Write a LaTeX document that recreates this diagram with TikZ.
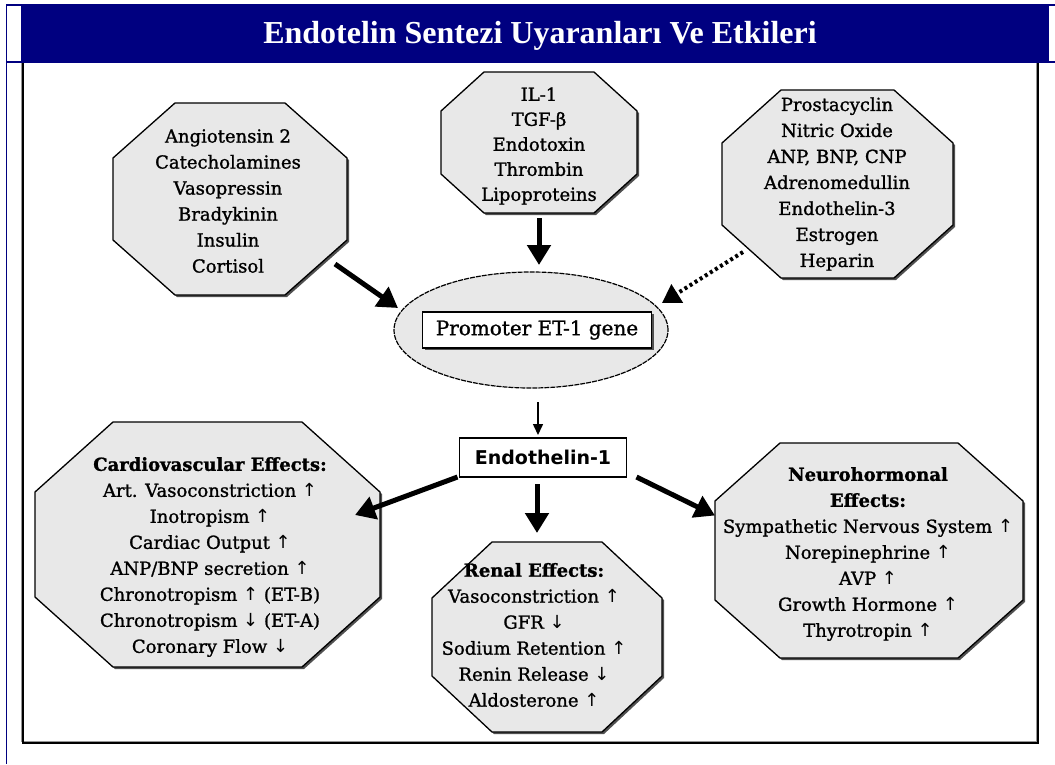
\documentclass[tikz,border=0pt]{standalone}
\usepackage{fontspec}
\setmainfont{DejaVu Serif}[FakeBold=1.2]
\newfontfamily\titlefont{Liberation Serif}
\newfontfamily\labelsans{DejaVu Sans}
\usetikzlibrary{arrows.meta,shapes.geometric,shadows}

\definecolor{navy}{RGB}{0,0,128}
\definecolor{octfill}{RGB}{232,232,232}
\definecolor{octshadow}{RGB}{80,80,80}
\definecolor{framegray}{RGB}{150,150,150}

\newcommand\uparr{{\labelsans ↑}}
\newcommand\dnarr{{\labelsans ↓}}

% octagon: #1 name, #2 left, #3 top, #4 right, #5 bottom, #6 corner cut x, #7 corner cut y
\newcommand\octagon[7]{%
  \fill[octshade] ({#2+#6+2},{#3+2}) -- ({#4-#6+2},{#3+2}) -- ({#4+2},{#3+#7+2})
    -- ({#4+2},{#5-#7+2}) -- ({#4-#6+2},{#5+2}) -- ({#2+#6+2},{#5+2})
    -- ({#2+2},{#5-#7+2}) -- ({#2+2},{#3+#7+2}) -- cycle;
  \filldraw[octbody] ({#2+#6},{#3}) -- ({#4-#6},{#3}) -- ({#4},{#3+#7})
    -- ({#4},{#5-#7}) -- ({#4-#6},{#5}) -- ({#2+#6},{#5})
    -- ({#2},{#5-#7}) -- ({#2},{#3+#7}) -- cycle;
  \node[frame, minimum width={(#4-#2)*1pt}, minimum height={(#5-#3)*1pt}]
    (#1) at ({(#2+#4)/2},{(#3+#5)/2}) {};
}

\tikzset{
  octbody/.style={fill=octfill, draw=black, line width=1.3pt, line join=miter},
  octshade/.style={fill=octshadow},
  frame/.style={shape=rectangle, inner sep=0pt, outer sep=0pt},
  octtext/.style={align=center, font=\fontsize{18}{26}\selectfont, inner sep=0pt},
  bigarrow/.style={line width=5pt, -{Triangle[length=20pt,width=23pt]}},
  dotarrow/.style={line width=4pt, dash pattern=on 3pt off 3pt,
    -{Triangle[length=18pt,width=21pt]}},
  thinarrow/.style={line width=1.5pt, -{Triangle[length=11pt,width=10pt]}},
}

\begin{document}
\begin{tikzpicture}[x=1pt,y=-1pt]
\useasboundingbox (0,0) rectangle (1055,764);
\fill[white] (0,0) rectangle (1055,764);

% header band
\fill[navy] (21,5) rectangle (1049,62);
\draw[navy, line width=2pt] (6,5) -- (1055,5);
\draw[navy, line width=2pt] (6,62) -- (1055,62);
\draw[navy, line width=1.5pt] (6.5,4) -- (6.5,764);
\node[text=white, font={\titlefont\bfseries\fontsize{32}{34}\selectfont}, anchor=base]
  (title) at (540,43) {Endotelin Sentezi Uyaranları Ve Etkileri};

% content frame
\draw[framegray, line width=1pt] (21.5,63) -- (21.5,742);
\draw[framegray, line width=1pt] (24,741) -- (1036,741) -- (1036,63);
\draw[black, line width=2pt] (23,63) -- (23,743) -- (1038,743) -- (1038,63);

% stimulus octagons
\octagon{lt}{113}{103}{347}{295}{62}{55}
\octagon{tm}{441}{72}{637}{213}{43}{39}
\octagon{tr}{722}{90}{953}{278}{59}{53}

\node[octtext] (lt-txt) at (228,201)
  {Angiotensin 2\\Catecholamines\\Vasopressin\\Bradykinin\\Insulin\\Cortisol};
\node[octtext, font=\fontsize{18}{25}\selectfont] (tm-txt) at (539,146)
  {IL-1\\TGF-β\\Endotoxin\\Thrombin\\Lipoproteins};
\node[octtext] (tr-txt) at (837,184)
  {Prostacyclin\\Nitric Oxide\\ANP, BNP, CNP\\Adrenomedullin\\Endothelin-3\\Estrogen\\Heparin};

% promoter
\node[ellipse, fill=octfill, draw=black, line width=1.2pt, dash pattern=on 5pt off 1pt,
  minimum width=274pt, minimum height=116pt, inner sep=0pt, outer sep=0pt]
  (prom) at (531,330) {};
\node[frame, fill=white, draw=black, line width=1.5pt,
  drop shadow={shadow xshift=2pt, shadow yshift=-2pt, fill=octshadow, opacity=1},
  minimum width=229pt, minimum height=36pt, font=\fontsize{20}{24}\selectfont]
  (gene) at (537,330) {Promoter ET-1 gene};

% product
\node[frame, fill=white, draw=black, line width=1.5pt,
  minimum width=167pt, minimum height=39pt,
  font={\labelsans\bfseries\fontsize{19}{22}\selectfont}]
  (endo) at (543,457.5) {Endothelin-1};

% effect octagons
\octagon{cv}{35}{422}{380}{667}{78}{70}
\octagon{rn}{432}{542}{662}{732}{60}{56}
\octagon{nh}{715}{443}{1023}{658}{65}{58}

\node[octtext] (cv-txt) at (210,557)
  {\textbf{Cardiovascular Effects:}\\Art. Vasoconstriction \uparr\\Inotropism \uparr\\
   Cardiac Output \uparr\\ANP/BNP secretion \uparr\\Chronotropism \uparr{} (ET-B)\\
   Chronotropism \dnarr{} (ET-A)\\Coronary Flow \dnarr};
\node[octtext] (rn-txt) at (534,635)
  {\textbf{Renal Effects:}\\Vasoconstriction \uparr\\GFR \dnarr\\Sodium Retention \uparr\\
   Renin Release \dnarr\\Aldosterone \uparr};
\node[octtext] (nh-txt) at (868,554)
  {\textbf{Neurohormonal}\\\textbf{Effects:}\\Sympathetic Nervous System \uparr\\
   Norepinephrine \uparr\\AVP \uparr\\Growth Hormone \uparr\\Thyrotropin \uparr};

% connectors
\draw[bigarrow] ([shift={(-12,-31)}]lt.south east) -- ([shift={(-133,-22)}]prom.center);
\draw[bigarrow] ([shift={(0,5)}]tm.south) -- ([shift={(8,-65)}]prom.center);
\draw[dotarrow] ([shift={(21,-26)}]tr.south west) -- ([shift={(131,-27)}]prom.center);
\draw[thinarrow] ([shift={(7,72)}]prom.center) -- ([shift={(-5,-3)}]endo.north);
\draw[bigarrow] ([shift={(-2,0)}]endo.south west) -- ([shift={(-25,93)}]cv.north east);
\draw[bigarrow] ([shift={(-6,7)}]endo.south) -- ([shift={(-10,-9)}]rn.north);
\draw[bigarrow] ([shift={(10,0)}]endo.south east) -- ([shift={(0,-35)}]nh.west);
\end{tikzpicture}
\end{document}
